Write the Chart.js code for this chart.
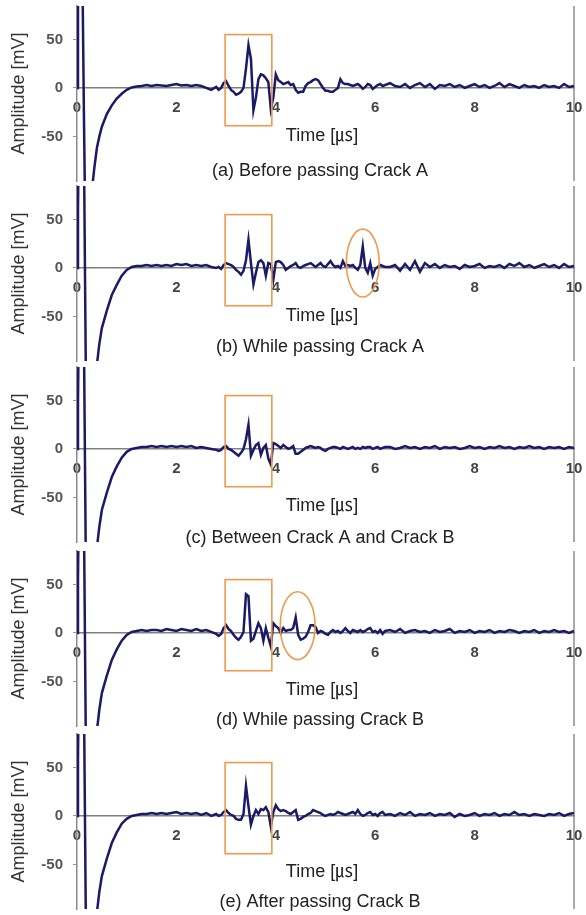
<!DOCTYPE html>
<html>
<head>
<meta charset="utf-8">
<script src="https://cdn.jsdelivr.net/npm/chart.js@4.4.1/dist/chart.umd.min.js"></script>
<style>
  html, body { margin: 0; padding: 0; background: #fff; overflow: hidden; }
  #wrap { position: relative; width: 586px; height: 915px; }
  #wrap canvas { position: absolute; left: 0; }
</style>
</head>
<body>
<div id="wrap"></div>
<script>
// time axis [us] - finer around the start transient and the echo window
var timeUs = [0, 0.02, 0.06, 0.1, 0.14, 0.18, 0.22, 0.26, 0.3, 0.35, 0.4, 0.45, 0.5,
  0.6, 0.7, 0.8, 0.9, 1.0, 1.1, 1.2, 1.3, 1.4, 1.5, 1.6, 1.7, 1.8, 1.9, 2.0, 2.1, 2.2, 2.3, 2.4, 2.5, 2.6, 2.7, 2.8,
  2.85, 2.9, 2.95, 3.0, 3.05, 3.1, 3.15, 3.2, 3.25, 3.3, 3.35, 3.4, 3.45, 3.5, 3.55, 3.6, 3.65, 3.7, 3.75, 3.8, 3.85, 3.9, 3.95,
  4.0, 4.05, 4.1, 4.15, 4.2, 4.25, 4.3, 4.35, 4.4, 4.45, 4.5, 4.55, 4.6, 4.65, 4.7, 4.75, 4.8, 4.85, 4.9, 4.95,
  5.0, 5.05, 5.1, 5.15, 5.2, 5.25, 5.3, 5.35, 5.4, 5.45, 5.5, 5.55, 5.6, 5.65, 5.7, 5.75, 5.8, 5.85, 5.9, 5.95,
  6.0, 6.05, 6.1, 6.15, 6.2,
  6.3, 6.4, 6.5, 6.6, 6.7, 6.8, 6.9, 7.0, 7.1, 7.2, 7.3, 7.4, 7.5, 7.6, 7.7, 7.8, 7.9,
  8.0, 8.1, 8.2, 8.3, 8.4, 8.5, 8.6, 8.7, 8.8, 8.9, 9.0, 9.1, 9.2, 9.3, 9.4, 9.5, 9.6, 9.7, 9.8, 9.9, 10.0];

// amplitude [mV], one list per panel
var ampA = [0, 220, 260, 160, -30, -200, -220, -170, -105, -82, -62, -50, -40,
  -27, -18, -11, -6, -2, 0.5, 1.5, 2, 3, 2, 3, 2.5, 2, 3, 4, 2.5, 3, 2, 3, 2, 0, -2, 1,
  -2, 0, 5, 7, 2, -2, -4, -7, -6, -4, 0, 20, 44, 30, -23, -10, 9, 14, 13, 10, 6, -22, -10,
  14, 8, 6, 4, 5, 6, 3, 4, -2, -5, -4, -4, 2, 5, 6, 8, 9, 8, 4, 0,
  -3, -3, -4, -4, -2, 0, 9, 5, 4, 4, 3, 2, 3, 4, 2, -1, 1, 4, 3, -1,
  1, 3, 4, 2, 3,
  5, 2, 1, 4, 0, 3, 5, 1, 4, -1, 3, 2, 4, 1, 3, 0, 2,
  4, 1, 3, 0, 2, 5, 1, 4, 2, 0, 3, 1, 2, 0, 3, 1, 2, 0, 4, 1, 2];

var ampB = [0, 60, 260, 250, 120, -120, -220, -220, -180, -140, -100, -78, -62,
  -44, -28, -17.5, -8, -2, 1, 2, 2, 3, 2, 3, 2, 3, 2, 4, 3, 4, 2, 3, 2, 3, 1, 0,
  1, -1, 3, 5, 4, 3, 1, -2, -4, -7, -3, 8, 29, 5, -17, -5, 6, 8, 5, -8, 5, 4, -12,
  6, 7, 6, 3, -2, 0, 2, 3, 5, 1, 0, 2, 3, 4, 5, 3, 1, 3, 5, 2,
  1, 4, 7, 3, 1, 2, 0, 7, 2, 3, 2, 3, 0, -2, 3, 22, 0, -5, 5, -8,
  -1, 1, 3, 2, 1,
  1, 3, -3, 4, -2, 7, -4, 5, 1, 4, 0, 3, 1, 2, -1, 3, 1,
  2, 4, 0, 2, 1, 3, 0, 4, 2, 5, 1, 3, 0, 2, 4, 1, 3, 0, 4, 1, 2];

var ampC = [0, 50, 260, 250, 110, -130, -220, -220, -180, -140, -102, -80, -63,
  -45, -29, -18, -9, -3, 0, 1, 2, 2, 3, 2, 3, 2, 3, 2, 3, 2, 3, 1, 2, 1, 0, -1,
  -2, -1, 2, 3, 0, -1, -3, -5, -7, -4, 0, 10, 25, -7, -1, 4, 6, -6, 1, 4, -10, -16, 6,
  5, 3, 1, 4, 2, 0, 1, 3, -5, -5, -3, -1, 1, 2, 3, 2, 1, 2, 1, -1,
  -2, 0, 1, 2, 2, 1, 0, 2, 1, 0, 1, 2, 0, 1, 0, 2, 1, 2, 2, 0,
  1, 2, 0, 1, 2,
  2, 0, 1, 3, 1, 2, 0, 2, 1, 3, 0, 2, 1, 2, 0, 1, 3,
  1, 2, 0, 2, 1, 3, 1, 2, 0, 2, 1, 3, 1, 2, 0, 2, 1, 2, 0, 2, 1];

var ampD = [0, 55, 260, 250, 115, -125, -220, -220, -180, -140, -101, -79, -62,
  -44, -28, -17, -8, -2, 1, 2, 3, 2, 3, 3, 2, 4, 3, 2, 4, 3, 2, 4, 2, 3, 1, -1,
  -3, -1, 5, 8, 4, 2, -2, -5, -7, -4, 1, 40, 38, -8, -6, 2, 10, 5, -8, 5, -5, -14, 10,
  7, 5, 0, 5, 2, 3, 3, 5, 16, -2, -7, -6, -4, 1, 8, 8, 6, 0, 2, 1,
  -1, -2, 1, 3, 1, 2, 0, 2, 5, 2, 0, 3, 2, 1, 3, 1, 2, 4, 5, 1,
  2, 0, 3, -1, 2,
  3, 1, 4, 0, 2, 3, 1, 2, 0, 3, 1, 2, 4, 0, 2, 1, 3,
  0, 2, 1, 3, 0, 2, 1, 3, 2, 0, 2, 1, 3, 0, 2, 1, 3, 1, 2, 0, 2];

var ampE = [0, 60, 260, 250, 120, -120, -220, -220, -180, -140, -100, -78, -62,
  -44, -28, -17, -8, -3, 0, 1, 2, 2, 3, 2, 3, 2, 3, 4, 2, 3, 2, 3, 1, 3, 0, 2,
  0, 1, 4, 6, 3, 1, 0, -3, -4, -4, 2, 31, 10, -9, 0, 6, 2, 7, 6, 9, 4, -11, 4,
  11, 7, 5, 6, 5, 3, 2, 4, 6, -4, -3, -1, 0, 2, 3, 6, 5, 4, 3, 1,
  0, 1, 2, 1, 2, 4, 3, 2, 1, 2, 3, 4, 2, 6, 2, 0, 1, 3, 4, 1,
  2, 0, 3, 4, 1,
  2, 0, 3, 1, 4, 0, 2, 1, 3, 0, 2, 1, 3, -1, 2, 0, 1,
  3, 0, 2, 1, 3, 0, 2, 1, 4, 1, 2, 0, 2, 1, 0, 2, 1, 3, 0, 2, 3];

var captions = ['(a) Before passing Crack A', '(b) While passing Crack A',
  '(c) Between Crack A and Crack B', '(d) While passing Crack B', '(e) After passing Crack B'];
var yTicks = [-50, 0, 50];

// orange marks (data units): window box on every panel, ellipse on b and d
var boxT = [2.98, 3.92], boxV = [-39, 55];
var ellipses = [null, {t: 5.75, v: 5, dt: 0.33, dv: 35}, null, {t: 4.44, v: 7.5, dt: 0.35, dv: 35}, null];

var series = [ampA, ampB, ampC, ampD, ampE];
var panelTop = [0, 180, 361, 545, 728];
var timeY = [136, 136, 145, 145, 144];
var capY = [171, 167, 177, 175, 174];

var FONT = "'Liberation Sans', 'Noto Sans CJK KR', Arial, sans-serif";
var wrap = document.getElementById('wrap');

series.forEach(function(vals, p) {
  if (vals.length !== timeUs.length) console.error('length mismatch', p, vals.length);
  var cv = document.createElement('canvas');
  cv.width = 586; cv.height = 200;
  cv.style.top = panelTop[p] + 'px';
  wrap.appendChild(cv);

  var pts = timeUs.map(function(t, i) { return {x: t, y: vals[i]}; });

  var marks = {
    id: 'marks' + p,
    afterDatasetsDraw: function(chart) {
      var ctx = chart.ctx, x = chart.scales.x, y = chart.scales.y;
      ctx.save();
      ctx.strokeStyle = '#ee9a4e';
      ctx.lineWidth = 1.6;
      var x0 = x.getPixelForValue(boxT[0]), x1 = x.getPixelForValue(boxT[1]);
      var y0 = y.getPixelForValue(boxV[1]), y1 = y.getPixelForValue(boxV[0]);
      ctx.strokeRect(x0, y0, x1 - x0, y1 - y0);
      var e = ellipses[p];
      if (e) {
        var cx = x.getPixelForValue(e.t), cy = y.getPixelForValue(e.v);
        var rx = x.getPixelForValue(e.t + e.dt) - cx, ry = cy - y.getPixelForValue(e.v + e.dv);
        ctx.beginPath();
        ctx.ellipse(cx, cy, rx, ry, 0, 0, Math.PI * 2);
        ctx.stroke();
      }
      ctx.restore();
    },
    afterDraw: function(chart) {
      var ctx = chart.ctx;
      ctx.save();
      ctx.fillStyle = '#222';
      ctx.font = '18px ' + FONT;
      ctx.textAlign = 'center';
      ctx.textBaseline = 'middle';
      ctx.fillText('Time [\u33B2]', 322, timeY[p]);
      ctx.fillText(captions[p], 320, capY[p]);
      ctx.restore();
    }
  };

  new Chart(cv, {
    type: 'line',
    data: {
      datasets: [{
        data: pts,
        borderColor: '#1a1a66',
        borderWidth: 2.5,
        pointRadius: 0,
        tension: 0
      }]
    },
    options: {
      responsive: false,
      animation: false,
      layout: { padding: { left: 0, right: 12, top: 6, bottom: 19 } },
      plugins: { legend: { display: false }, tooltip: { enabled: false } },
      scales: {
        x: {
          type: 'linear',
          min: 0, max: 10,
          position: { y: 0 },
          afterFit: function(s) { s.paddingLeft = 0; s.paddingRight = 0; },
          ticks: {
            stepSize: 2, padding: 11, color: '#444',
            font: { family: FONT, size: 15, weight: 'bold' },
            callback: function(v) { return String(v); }
          },
          grid: {
            drawTicks: false,
            lineWidth: 2,
            color: function(c) { return c.tick && c.tick.value === 10 ? '#aaaaaa' : 'rgba(0,0,0,0)'; }
          },
          border: { color: '#808080', width: 1.5 }
        },
        y: {
          min: -96, max: 84.5,
          afterBuildTicks: function(s) { s.ticks = yTicks.map(function(v) { return {value: v}; }); },
          afterFit: function(s) { s.width = 77; s.paddingTop = 0; s.paddingBottom = 0; },
          ticks: {
            padding: 10, color: '#555',
            font: { family: FONT, size: 15, weight: 'bold' },
            callback: function(v) { return String(v); }
          },
          grid: { drawOnChartArea: false, tickLength: 4, color: '#999' },
          border: { color: '#8a8a8a', width: 1.5 },
          title: {
            display: true, text: 'Amplitude [mV]', color: '#333',
            font: { family: FONT, size: 18 },
            padding: { top: 8, bottom: 0 }
          }
        }
      }
    },
    plugins: [marks]
  });
});
</script>
</body>
</html>
